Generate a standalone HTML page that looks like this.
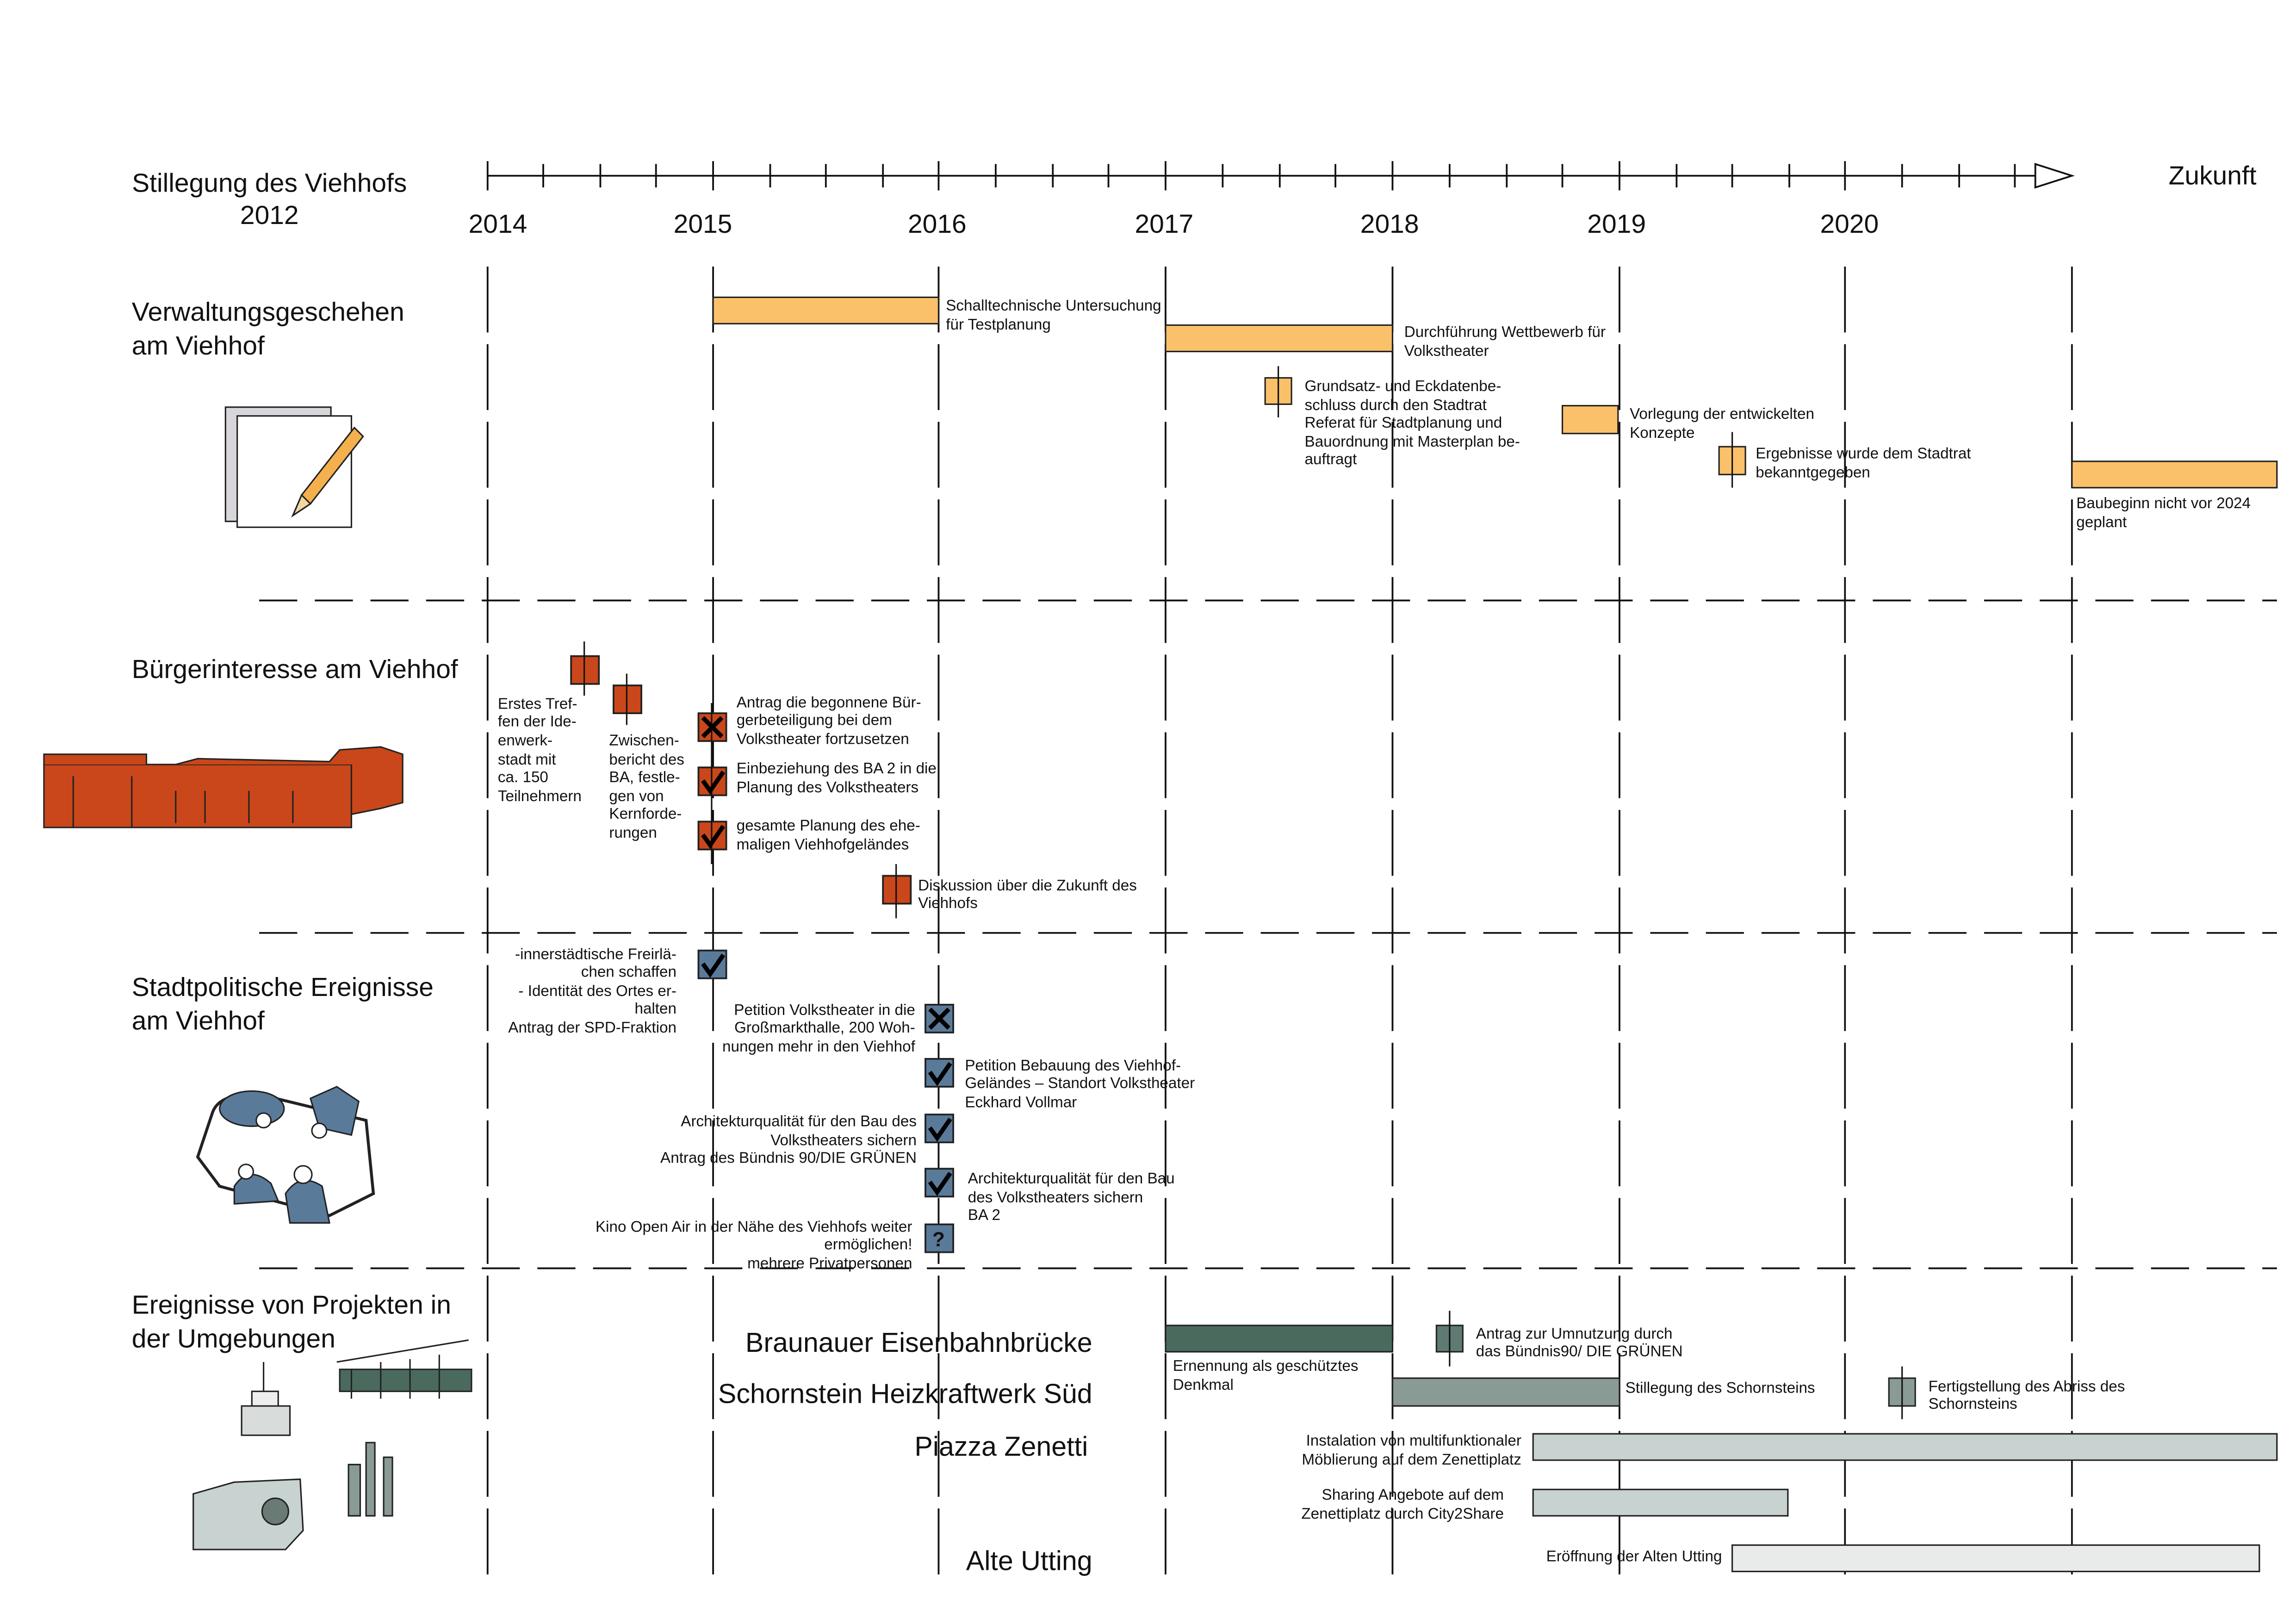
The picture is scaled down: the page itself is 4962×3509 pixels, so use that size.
<!DOCTYPE html>
<html><head><meta charset="utf-8"><style>
body{margin:0;background:#fff;}
#w{position:absolute;left:0;top:0;width:1568px;height:1109px;transform:scale(3.1645);transform-origin:0 0;overflow:hidden;}
svg{position:absolute;left:0;top:0;}
text{font-family:"Liberation Sans Narrow","Liberation Sans",sans-serif;font-size:10.5px;fill:#111;}
.h{font-family:"Liberation Sans",sans-serif;font-size:18px;}
.b{font-family:"Liberation Sans",sans-serif;font-size:18.7px;}
.y{font-family:"Liberation Sans",sans-serif;font-size:18px;}
</style></head><body><div id="w">
<svg width="1568" height="1109" viewBox="0 0 1568 1109">
<g stroke="#111" stroke-width="1.2" fill="none">
<path d="M333 120H1390"/>
<polygon points="1390,112 1415,120 1390,128" fill="#fff"/>
<path d="M333 110V130M371 112V128M410 112V128M448 112V128M487 110V130M526 112V128M564 112V128M603 112V128M641 110V130M680 112V128M719 112V128M757 112V128M796 110V130M835 112V128M874 112V128M912 112V128M951 110V130M990 112V128M1029 112V128M1067 112V128M1106 110V130M1145 112V128M1183 112V128M1222 112V128M1260 110V130M1299 112V128M1338 112V128M1376 112V128"/>
<g stroke-dasharray="45,8">
<path d="M333 182V1075M487 182V1075M641 182V1075M796 182V1075M951 182V1075M1106 182V1075M1260 182V1075M1415 182V1075"/>
</g>
<g stroke-dasharray="26,12">
<path d="M177 410H1555M177 637H1555M177 866H1555"/>
</g>
</g>
<text class="y" x="320" y="159">2014</text>
<text class="y" x="460" y="159">2015</text>
<text class="y" x="620" y="159">2016</text>
<text class="y" x="775" y="159">2017</text>
<text class="y" x="929" y="159">2018</text>
<text class="y" x="1084" y="159">2019</text>
<text class="y" x="1243" y="159">2020</text>
<text class="y" x="1481" y="126">Zukunft</text>
<text class="h" x="184" y="131" text-anchor="middle">Stillegung des Viehhofs</text>
<text class="h" x="184" y="153" text-anchor="middle">2012</text>
<text class="h" x="90" y="219">Verwaltungsgeschehen</text>
<text class="h" x="90" y="242">am Viehhof</text>
<text class="h" x="90" y="463">Bürgerinteresse am Viehhof</text>
<text class="h" x="90" y="680">Stadtpolitische Ereignisse</text>
<text class="h" x="90" y="703">am Viehhof</text>
<text class="h" x="90" y="897">Ereignisse von Projekten in</text>
<text class="h" x="90" y="920">der Umgebungen</text>

<g fill="#fbc16a" stroke="#222" stroke-width="1">
<rect x="487" y="203" width="154" height="18"/>
<rect x="796" y="222" width="155" height="18"/>
<rect x="864" y="258" width="18" height="18"/>
<rect x="1067" y="277" width="38" height="19"/>
<rect x="1174" y="305" width="18" height="19"/>
<rect x="1415" y="315" width="140" height="18"/>
</g>
<path d="M873 250V285M1183 295V333" stroke="#111"/>
<text x="646" y="212">Schalltechnische Untersuchung</text><text x="646" y="225">für Testplanung</text>
<text x="959" y="230">Durchführung Wettbewerb für</text><text x="959" y="243">Volkstheater</text>
<text x="891" y="267">Grundsatz- und Eckdatenbe-</text><text x="891" y="280">schluss durch den Stadtrat</text><text x="891" y="292">Referat für Stadtplanung und</text><text x="891" y="305">Bauordnung mit Masterplan be-</text><text x="891" y="317">auftragt</text>
<text x="1113" y="286">Vorlegung der entwickelten</text><text x="1113" y="299">Konzepte</text>
<text x="1199" y="313">Ergebnisse wurde dem Stadtrat</text><text x="1199" y="326">bekanntgegeben</text>
<text x="1418" y="347">Baubeginn nicht vor 2024</text><text x="1418" y="360">geplant</text>

<g fill="#c9471a" stroke="#222" stroke-width="1.2">
<rect x="390" y="448" width="19" height="19"/>
<rect x="419" y="468" width="19" height="19"/>
<rect x="477" y="487" width="19" height="19"/>
<rect x="477" y="524" width="19" height="19"/>
<rect x="477" y="561" width="19" height="19"/>
<rect x="603" y="598" width="19" height="19"/>
</g>
<path d="M399 438V475M428 460V495M486 480V590M612 590V627" stroke="#111"/>
<g stroke="#000" stroke-width="3" fill="none">
<path d="M480 490L493 503M493 490L480 503"/>
<path d="M480 533L485 540L494 527"/>
<path d="M480 570L485 577L494 564"/>
</g>
<text x="340" y="484">Erstes Tref-</text><text x="340" y="496">fen der Ide-</text><text x="340" y="509">enwerk-</text><text x="340" y="522">stadt mit</text><text x="340" y="534">ca. 150</text><text x="340" y="547">Teilnehmern</text>
<text x="416" y="509">Zwischen-</text><text x="416" y="522">bericht des</text><text x="416" y="534">BA, festle-</text><text x="416" y="547">gen von</text><text x="416" y="559">Kernforde-</text><text x="416" y="572">rungen</text>
<text x="503" y="483">Antrag die begonnene Bür-</text><text x="503" y="495">gerbeteiligung bei dem</text><text x="503" y="508">Volkstheater fortzusetzen</text>
<text x="503" y="528">Einbeziehung des BA 2 in die</text><text x="503" y="541">Planung des Volkstheaters</text>
<text x="503" y="567">gesamte Planung des ehe-</text><text x="503" y="580">maligen Viehhofgeländes</text>
<text x="627" y="608">Diskussion über die Zukunft des</text><text x="627" y="620">Viehhofs</text>

<g fill="#5a7a9a" stroke="#222" stroke-width="1.2">
<rect x="477" y="649" width="19" height="19"/>
<rect x="632" y="686" width="19" height="19"/>
<rect x="632" y="723" width="19" height="19"/>
<rect x="632" y="761" width="19" height="19"/>
<rect x="632" y="798" width="19" height="19"/>
<rect x="632" y="836" width="19" height="19"/>
</g>
<g stroke="#000" stroke-width="3" fill="none">
<path d="M480 658L485 665L494 652"/>
<path d="M635 689L648 702M648 689L635 702"/>
<path d="M635 732L640 739L649 726"/>
<path d="M635 770L640 777L649 764"/>
<path d="M635 807L640 814L649 801"/>
</g>
<text x="641" y="851" text-anchor="middle" style="font-size:14px;font-weight:bold">?</text>
<g text-anchor="end">
<text x="462" y="655">-innerstädtische Freirlä-</text><text x="462" y="667">chen schaffen</text><text x="462" y="680">- Identität des Ortes er-</text><text x="462" y="692">halten</text><text x="462" y="705">Antrag der SPD-Fraktion</text>
<text x="625" y="693">Petition Volkstheater in die</text><text x="625" y="705">Großmarkthalle, 200 Woh-</text><text x="625" y="718">nungen mehr in den Viehhof</text>
<text x="626" y="769">Architekturqualität für den Bau des</text><text x="626" y="782">Volkstheaters sichern</text><text x="626" y="794">Antrag des Bündnis 90/DIE GRÜNEN</text>
<text x="623" y="841">Kino Open Air in der Nähe des Viehhofs weiter</text><text x="623" y="853">ermöglichen!</text><text x="623" y="866">mehrere Privatpersonen</text>
</g>
<text x="659" y="731">Petition Bebauung des Viehhof-</text><text x="659" y="743">Geländes – Standort Volkstheater</text><text x="659" y="756">Eckhard Vollmar</text>
<text x="661" y="808">Architekturqualität für den Bau</text><text x="661" y="821">des Volkstheaters sichern</text><text x="661" y="833">BA 2</text>

<g text-anchor="end">
<text class="b" x="746" y="923">Braunauer Eisenbahnbrücke</text>
<text class="b" x="746" y="958">Schornstein Heizkraftwerk Süd</text>
<text class="b" x="743" y="994">Piazza Zenetti</text>
<text class="b" x="746" y="1072">Alte Utting</text>
</g>
<g stroke="#222" stroke-width="1">
<rect x="796" y="905" width="155" height="18" fill="#4a6a5e"/>
<rect x="981" y="905" width="18" height="18" fill="#5f7a72"/>
<rect x="951" y="941" width="155" height="19" fill="#8a9a94"/>
<rect x="1290" y="941" width="18" height="19" fill="#8a9a94"/>
<rect x="1047" y="979" width="508" height="18" fill="#c8d2d0"/>
<rect x="1047" y="1017" width="174" height="18" fill="#c8d2d0"/>
<rect x="1183" y="1055" width="360" height="18" fill="#e8ebea"/>
</g>
<path d="M990 895V933M1299 933V969" stroke="#111"/>
<text x="801" y="936">Ernennung als geschütztes</text><text x="801" y="949">Denkmal</text>
<text x="1008" y="914">Antrag zur Umnutzung durch</text><text x="1008" y="926">das Bündnis90/ DIE GRÜNEN</text>
<text x="1110" y="951">Stillegung des Schornsteins</text>
<text x="1317" y="950">Fertigstellung des Abriss des</text><text x="1317" y="962">Schornsteins</text>
<g text-anchor="end">
<text x="1039" y="987">Instalation von multifunktionaler</text><text x="1039" y="1000">Möblierung auf dem Zenettiplatz</text>
<text x="1027" y="1024">Sharing Angebote auf dem</text><text x="1027" y="1037">Zenettiplatz durch City2Share</text>
<text x="1176" y="1066">Eröffnung der Alten Utting</text>
</g>

<g stroke="#222" stroke-width="1">
<rect x="154" y="278" width="72" height="78" fill="#d8d6da"/>
<rect x="162" y="284" width="78" height="76" fill="#fff"/>
<polygon points="200,352 206,338 242,292 248,298 212,344" fill="#f5b04e"/>
<polygon points="200,352 206,338 212,344" fill="#f3d6a0"/>
<path d="M30 522H240V565H30Z" fill="#c9471a"/>
<path d="M30 522L30 515H100L100 522M120 522L135 518L225 520L232 512L260 510L275 515V548L260 552L240 556V522" fill="#c9471a"/>
<path d="M50 530V565M90 530V565M120 540V562M140 540V562M170 540V562M200 540V562" />
<path d="M145 760Q150 745 180 748L250 765L255 815L225 830L150 810L135 790Z" fill="#fff" stroke-width="2"/>
<ellipse cx="172" cy="757" rx="22" ry="12" fill="#5a7a9a"/>
<path d="M212 750L230 742L245 752L240 775L218 770Z" fill="#5a7a9a"/>
<path d="M160 810Q170 795 185 808L190 820L160 822Z" fill="#5a7a9a"/>
<path d="M195 815Q205 800 220 810L225 835L198 835Z" fill="#5a7a9a"/>
<circle cx="180" cy="765" r="5" fill="#fff"/><circle cx="218" cy="772" r="5" fill="#fff"/><circle cx="168" cy="800" r="5" fill="#fff"/><circle cx="207" cy="802" r="6" fill="#fff"/>
<path d="M232 935H322V950H232Z" fill="#4a6a5e"/>
<path d="M230 930L320 915M240 955V935M260 955V930M280 955V928M300 955V925" fill="none"/>
<path d="M165 960H198V980H165Z" fill="#d8dcdb"/><path d="M172 950H190V960H172ZM180 930V950" fill="#eee"/>
<path d="M238 1035V1000H246V1035ZM250 1035V985H256V1035ZM262 1035V995H268V1035Z" fill="#8a9a94"/>
<path d="M132 1058V1020L160 1012L205 1010L207 1045L195 1058Z" fill="#c8d2d0"/>
<circle cx="188" cy="1032" r="9" fill="#6a7a74"/>
</g>
</svg>
</div></body></html>
